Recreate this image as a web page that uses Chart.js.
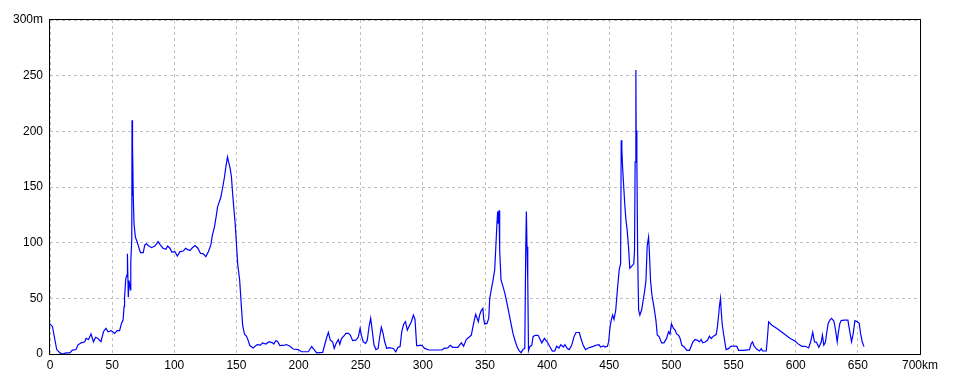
<!DOCTYPE html>
<html>
<head>
<meta charset="utf-8">
<script src="https://cdn.jsdelivr.net/npm/chart.js@4.4.1/dist/chart.umd.min.js"></script>
<style>
  html, body { margin: 0; padding: 0; background: #fff; }
  #wrap { width: 960px; height: 384px; }
</style>
</head>
<body>
<div id="wrap"><canvas id="profileChart"></canvas></div>
<script>
// elevation profile: distance (km) and height (m)
const distKm = [
  0, 2, 3.5, 5.4, 8, 10, 13, 16, 18, 21, 22.4, 25, 28, 29, 31, 33, 35, 36.7, 38.5, 41,
  43, 45, 46.7, 49.4, 52, 54, 56, 57.5, 58.8, 59.6, 60, 61, 62, 62.3, 63, 63.6, 64.7, 65, 65.8, 66,
  66.3, 66.5, 67, 67.6, 68.7, 70, 71.4, 72.8, 75, 76.3, 77.6, 79, 81.7, 84.4, 87, 89, 91, 93.3, 94.6, 96.5,
  98, 100.5, 102.4, 104.6, 107.3, 109, 110.5, 112.7, 114.6, 116.7, 119, 121, 123.4, 125.4, 127.5, 129.4, 130.7, 132.3, 133.7, 134.8,
  136, 137.5, 139, 140.4, 141.5, 142.8, 144, 145, 146, 147, 149, 151, 152.6, 154, 155, 156.5, 158, 159, 160.8, 163.4,
  166.7, 169.3, 171, 173.7, 176.3, 179, 180, 181.7, 183, 185, 189, 190.3, 193, 195.7, 199.7, 202.4, 207.8, 210.5, 212.7, 214.5,
  219.4, 221.2, 222.8, 224, 225.5, 227.4, 228.7, 230, 232, 233.2, 234.6, 236.7, 238, 240, 241.6, 243.5, 246, 248, 249.5, 250.5,
  252, 254, 255.3, 256.7, 258, 259.4, 260.7, 262.3, 264, 265.3, 266.6, 268, 269.3, 270.9, 272.8, 276.3, 278.2, 280, 281.7, 283,
  284.6, 286, 287.5, 289.4, 290.7, 292.4, 293.7, 295, 296.4, 298.2, 299.5, 301.4, 304.9, 315.5, 316.9, 320, 322, 324, 328.2, 329.5,
  331, 332.8, 334.9, 337, 339, 340.3, 341.4, 342.5, 343.5, 344.6, 345.7, 347, 348.3, 348.9, 349.7, 351.6, 353, 353.8, 355, 356.5,
  357.8, 358.6, 359.6, 360.2, 360.7, 361.3, 361.8, 362.9, 364.5, 366, 367.7, 369.3, 370.9, 372.5, 374, 375.8, 377.4, 379, 380.6, 382,
  382.8, 383.3, 383.8, 384.4, 385, 386, 387.6, 388.7, 390.3, 392.7, 394, 395.7, 397.8, 400, 402, 404.2, 406.2, 407.6, 409.5, 411,
  413, 414.3, 416.2, 417.8, 419.7, 421.6, 423.2, 425.9, 427.2, 429, 430.9, 433.1, 437.1, 439.8, 441.7, 443, 445.2, 446.6, 448.4, 449.5,
  450.6, 451.9, 452.7, 453.8, 455.2, 456.7, 458, 459.1, 459.6, 460.1, 460.7, 461.7, 462.5, 463.3, 464.4, 465.5, 466.5, 468.1, 469.7, 470.3,
  470.8, 471.4, 471.6, 472.2, 472.8, 473.6, 474.6, 476, 477.3, 478.4, 479.5, 480.5, 481.6, 482.2, 483.2, 484.3, 485.9, 487.5, 488.6, 490.2,
  492.1, 494, 496.1, 497.7, 498.8, 500, 501.7, 503, 504.3, 505.7, 507, 508.4, 510.3, 512.4, 514.6, 516.5, 517.2, 519, 521, 522.5,
  523.9, 525.2, 527.1, 529, 530.6, 532, 533.8, 536, 537, 538.1, 538.7, 539.5, 540, 540.8, 541.9, 543.2, 544, 545.9, 547.8, 550,
  552.6, 554, 558, 562.8, 564.2, 565.3, 566.6, 568.8, 570.9, 572.3, 573.3, 576.3, 577.4, 578.2, 580.9, 584.9, 590.3, 595.6, 599.7, 601.6,
  605, 607.7, 610.4, 611.9, 613.7, 615.1, 616.7, 618.6, 620.5, 621.5, 622.6, 623.9, 624.8, 626.1, 627.5, 628.8, 630.7, 632, 633.4, 634.2,
  635.5, 636.6, 638.7, 642, 643.3, 644.9, 646.3, 647.6, 649.5, 651.1, 652.2, 653.5, 654.9
];
const elevM = [
  27, 24.5, 15.5, 4, 1, 0, 1, 1, 3.5, 4, 8, 10, 11, 14, 13, 18, 11, 15, 14, 11,
  20, 23, 20, 21, 18.5, 21, 21, 27.5, 30.5, 42.5, 51, 68, 71, 90, 51, 66, 57.5, 83, 103, 210,
  142, 187, 142, 117, 105, 101, 96, 91, 91, 98, 99, 97.5, 95.5, 97, 101, 97.5, 95, 94, 97, 95,
  91.5, 92, 88, 92, 92.5, 95, 94, 93, 95.5, 97.5, 95, 90.5, 90, 87.5, 92, 98, 107, 114, 123.5, 132,
  136, 141, 150, 159, 168, 177, 171, 166.5, 159, 143, 117, 81, 66.5, 42.5, 26, 17.7, 16, 13.6, 7.6, 5.5,
  8.5, 8, 10, 9, 11, 10, 9, 12, 11.5, 7.6, 8, 8.5, 7, 4.5, 4, 2, 2, 6.7, 3.6, 1,
  1.5, 9, 15.5, 19.4, 12.5, 11, 5, 9, 13, 8.7, 14, 16.4, 18.5, 18.5, 17, 12, 12.5, 15, 23, 17,
  11, 9.5, 12.5, 24.5, 32, 20, 8, 4, 5, 15.5, 24, 18.5, 11, 5, 5.7, 5, 2, 6, 6.6, 20,
  27, 29, 21.5, 26, 29, 35, 31, 7.5, 7.5, 8, 7.5, 5, 3.6, 3.6, 5, 5.5, 7.8, 6, 6, 8,
  10, 7, 13, 15, 17, 24.5, 30.5, 35.6, 32.6, 29, 35, 39, 41, 32, 27, 27.5, 32, 50, 57.5, 66.5,
  75.5, 93.5, 117, 128, 117, 129, 93.5, 66.5, 60.5, 54.5, 45.5, 36.5, 27.5, 18.5, 12.6, 6.6, 3, 1.2, 4.2, 5,
  96.4, 128, 96.4, 66.5, 3, 6.6, 7.8, 15.6, 16.8, 16.8, 14, 10, 14, 11, 7, 2.5, 2.7, 7, 5.4, 8.4,
  6.3, 8.4, 4.8, 3.9, 7.8, 15.4, 19.3, 19.3, 13.9, 7.8, 3.9, 5.4, 6.9, 8.1, 8.4, 6.3, 7.2, 6.3, 6.9, 10.8,
  24.4, 32, 35, 31, 39.5, 60, 76, 81, 192, 184.5, 168, 148.6, 133.6, 121.7, 111, 96, 77, 79, 81, 93,
  172.5, 255, 200.8, 174, 92, 39.5, 35, 39.5, 48.5, 56, 66, 97, 105, 93, 66, 53, 42.5, 30.5, 17, 15.5,
  10, 10, 14, 20, 18, 27, 22.9, 21.4, 17.8, 16.9, 13.9, 7.8, 6.3, 3.3, 3.3, 8.7, 10.8, 13, 12.3, 10.8,
  13, 10, 10.8, 12.3, 16, 13.9, 16, 17.5, 24.4, 36.4, 44, 50, 39.5, 27.4, 18.4, 9.3, 3.9, 4.8, 6.9, 7.2,
  6.9, 3.3, 3.3, 3.9, 9.3, 10.8, 6.9, 4.2, 2.7, 4.8, 2.7, 2.7, 16.9, 28.9, 25.9, 22.9, 18.4, 13.9, 11.4, 9.3,
  6.9, 6.9, 5.4, 10.5, 19.5, 11, 10.5, 6, 10.5, 17, 8, 10.5, 18, 27.5, 30.5, 32, 29.6, 22, 11, 18.5,
  27.5, 30, 30.5, 30.5, 21.5, 11, 18.5, 30, 29, 27.5, 18.5, 11, 6.6
];

const kmTickStep = 50;
const kmMax = 700;
const mTickStep = 50;
const mMax = 300;

const tickFont = { family: '"Liberation Sans", sans-serif', size: 12 };

// black box round the plot area
const frameBox = {
    id: 'frameBox',
    afterDraw(chart) {
        const a = chart.chartArea;
        const ctx = chart.ctx;
        ctx.save();
        ctx.strokeStyle = '#000';
        ctx.lineWidth = 1;
        ctx.strokeRect(Math.round(a.left) - 0.5, Math.round(a.top) - 0.5,
            Math.round(a.right - a.left) + 1, Math.round(a.bottom - a.top) + 1);
        ctx.restore();
    }
};

new Chart(document.getElementById('profileChart'), {
    type: 'line',
    data: {
        datasets: [{
            data: distKm.map((d, i) => ({ x: d, y: elevM[i] })),
            borderColor: '#0000ff',
            borderWidth: 1.2,
            pointRadius: 0,
            tension: 0,
            fill: false
        }]
    },
    options: {
        responsive: true,
        maintainAspectRatio: false,
        animation: false,
        layout: { padding: { top: 20, right: 40, left: 0, bottom: 0 } },
        plugins: {
            legend: { display: false },
            tooltip: { enabled: false }
        },
        scales: {
            x: {
                type: 'linear',
                min: 0,
                max: kmMax,
                afterFit: scale => { scale.height = 30; },
                ticks: {
                    stepSize: kmTickStep,
                    color: '#000',
                    font: tickFont,
                    padding: 4,
                    maxRotation: 0,
                    callback: v => v === kmMax ? v + 'km' : v
                },
                grid: { color: '#c0c0c0', drawTicks: false },
                border: { display: false, dash: [3, 3] }
            },
            y: {
                min: 0,
                max: mMax,
                afterFit: scale => { scale.width = 50; },
                ticks: {
                    stepSize: mTickStep,
                    color: '#000',
                    font: tickFont,
                    padding: 7,
                    callback: v => v === mMax ? v + 'm' : v
                },
                grid: { color: '#c0c0c0', drawTicks: false },
                border: { display: false, dash: [3, 3] }
            }
        }
    },
    plugins: [frameBox]
});
</script>
</body>
</html>
